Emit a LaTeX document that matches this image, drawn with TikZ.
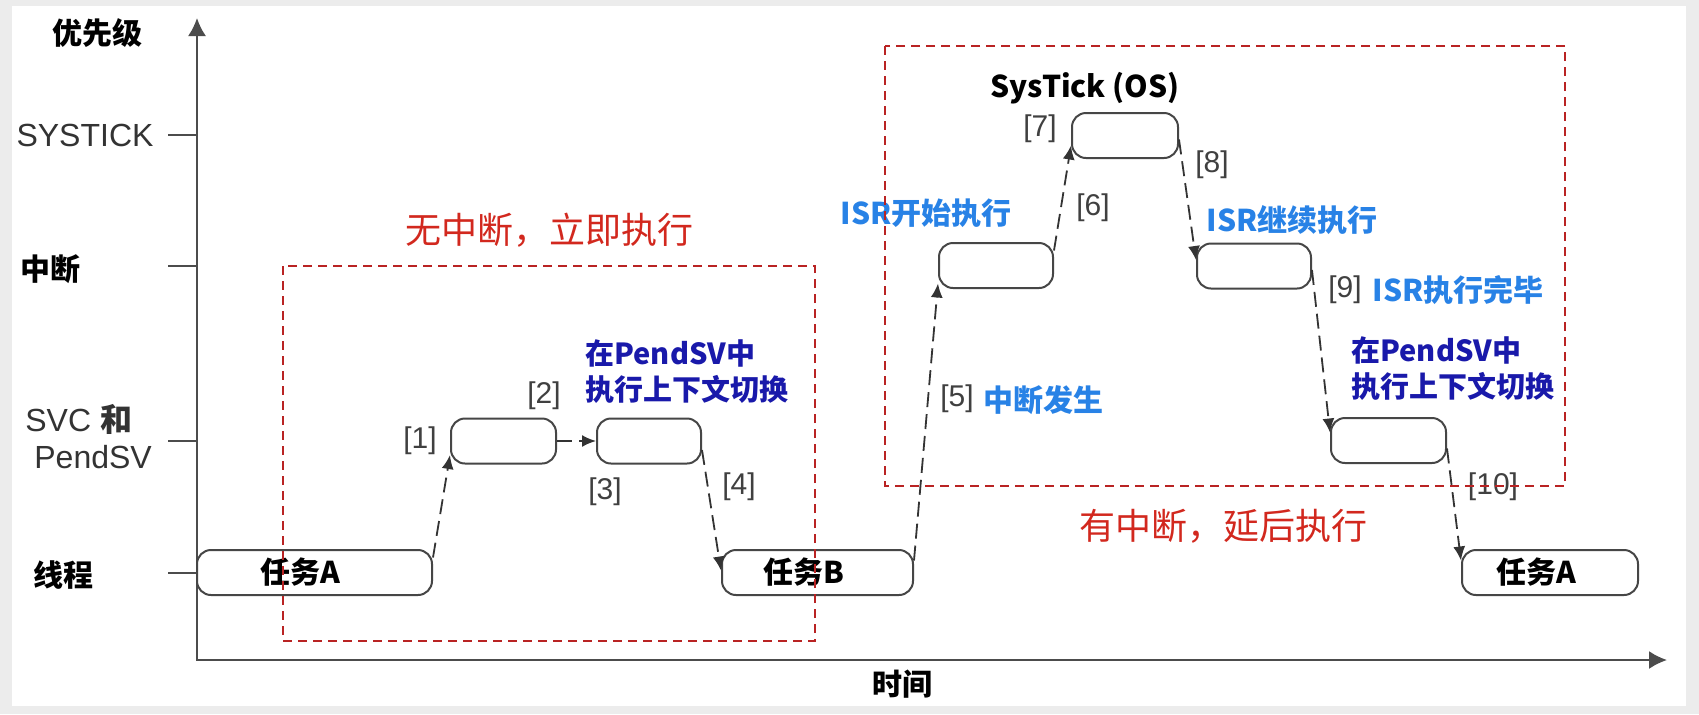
\documentclass[tikz,border=0pt]{standalone}
\usepackage{fontspec}
\setmainfont{Liberation Sans}
\newfontfamily\cjk{Noto Sans CJK SC}
\usetikzlibrary{arrows.meta}
\definecolor{navyblue}{RGB}{25,25,170}
\definecolor{skyblue}{RGB}{40,130,230}
\definecolor{notered}{RGB}{210,40,30}
\definecolor{zonered}{RGB}{185,35,35}
\definecolor{inkgray}{RGB}{70,70,70}

\begin{document}
\begin{tikzpicture}[x=0.5pt,y=-0.5pt,
  slot/.style={draw=inkgray, line width=1pt, rounded corners=7pt, fill=white,
    minimum height=22.5pt, inner sep=0pt, font=\cjk\bfseries\fontsize{15}{18}\selectfont},
  hop/.style={draw=black!80, line width=0.9pt, dash pattern=on 7.5pt off 3.5pt,
    -{Latex[length=7pt,width=6pt]}},
  axisline/.style={draw=black!70, line width=1pt},
  zone/.style={draw=zonered, line width=1pt, dash pattern=on 4.5pt off 3pt},
  lvl/.style={font=\cjk\bfseries\fontsize{15}{18}\selectfont, inner sep=0pt},
  lvlsans/.style={font=\fontsize{16}{18.5}\selectfont, text=black!80, inner sep=0pt},
  num/.style={font=\fontsize{15}{18}\selectfont, text=black!75, inner sep=0pt},
  navy/.style={font=\cjk\bfseries\fontsize{14.5}{18}\selectfont, text=navyblue,
    align=left, anchor=west, inner sep=0pt},
  sky/.style={font=\cjk\bfseries\fontsize{15}{18}\selectfont, text=skyblue, inner sep=0pt},
  note/.style={font=\cjk\fontsize{18}{21}\selectfont, text=notered, inner sep=0pt}]

\useasboundingbox (0,0) rectangle (1699,714);
\fill[gray!15] (0,0) rectangle (1699,714);
\fill[white] (12,6) rectangle (1686,706);

%axes
\coordinate (orig) at (197,660);
\coordinate (ytip) at (197,18);
\coordinate (xtip) at (1667,660);
\draw[axisline, {Latex[length=9pt,width=9pt]}-{Latex[length=9pt,width=9pt]}] (ytip) -- (orig) -- (xtip);
\foreach \y in {135,266,441,573}
  \draw[axisline] (168,\y) -- ++(29,0);

\node[lvl] (lvprio) at (98,33) {优先级};
\node[lvlsans] (lvtick) at (85,135) {SYSTICK};
\node[lvl] (lvirq) at (50,269) {中断};
\node[lvlsans, align=left, anchor=west] (lvsvc) at (25,437)
  {SVC {\cjk\bfseries 和}\\\hspace*{4.5pt}PendSV};
\node[lvl] (lvthr) at (63,575) {线程};
\node[lvl] (lvtime) at (902,684) {时间};

%boxes
\node[slot, minimum width=117.5pt] (taskA) at (314.5,572.5) {任务A\hspace*{14pt}};
\node[slot, minimum width=52.5pt] (svcA) at (503.5,441) {};
\node[slot, minimum width=52pt] (svcB) at (649,441) {};
\node[slot, minimum width=95.5pt] (taskB) at (817.5,572.5) {任务B\hspace*{14pt}};
\node[slot, minimum width=57pt] (isrA) at (996,265.5) {};
\node[slot, minimum width=53pt] (tick) at (1125,135.5) {};
\node[slot, minimum width=57pt] (isrB) at (1254,266) {};
\node[slot, minimum width=57.5pt] (svcC) at (1388.5,440.5) {};
\node[slot, minimum width=88pt] (taskC) at (1550,572.5) {任务A\hspace*{14pt}};

%switches
\draw[hop] ([yshift=7.5pt]taskA.east) -- ([yshift=-7pt]svcA.west);
\draw[hop] (svcA) -- (svcB);
\draw[hop] ([yshift=-4.5pt]svcB.east) -- ([yshift=1pt]taskB.west);
\draw[hop] ([yshift=6pt]taskB.east) -- ([yshift=-9pt]isrA.west);
\draw[hop] ([yshift=7.5pt]isrA.east) -- ([yshift=-5pt]tick.west);
\draw[hop] ([yshift=-2pt]tick.east) -- ([yshift=3pt]isrB.west);
\draw[hop] ([yshift=-2pt]isrB.east) -- ([yshift=4pt]svcC.west);
\draw[hop] ([yshift=-4pt]svcC.east) -- ([yshift=6pt]taskC.west);

%step numbers
\node[num] (n1) at (420,441) {[1]};
\node[num] (n2) at (544,396) {[2]};
\node[num] (n3) at (605,492) {[3]};
\node[num] (n4) at (739,487) {[4]};
\node[num] (n5) at (957,399) {[5]};
\node[num] (n6) at (1093,208) {[6]};
\node[num] (n7) at (1040,129) {[7]};
\node[num] (n8) at (1212,165) {[8]};
\node[num] (n9) at (1345,290) {[9]};
\node[num] (n10) at (1493,487) {[10]};

%notes
\node[navy] (swA) at (585,372) {在PendSV中\\执行上下文切换};
\node[navy] (swB) at (1351,369) {在PendSV中\\执行上下文切换};
\node[sky] (isrgo) at (926,213) {ISR开始执行};
\node[sky] (isron) at (1292,220) {ISR继续执行};
\node[sky] (isrend) at (1458,290) {ISR执行完毕};
\node[sky, anchor=west] (irqin) at (983,400) {中断发生};
\node[font=\cjk\bfseries\fontsize{15}{18}\selectfont, inner sep=0pt] (tickos) at (1085,88) {SysTick (OS)};

%zones
\draw[zone] (283,266) rectangle (815,641);
\draw[zone] (885,46) rectangle (1565,486);
\node[note] (nowait) at (549,230) {无中断，立即执行};
\node[note] (delay) at (1223,526) {有中断，延后执行};

\end{tikzpicture}
\end{document}
